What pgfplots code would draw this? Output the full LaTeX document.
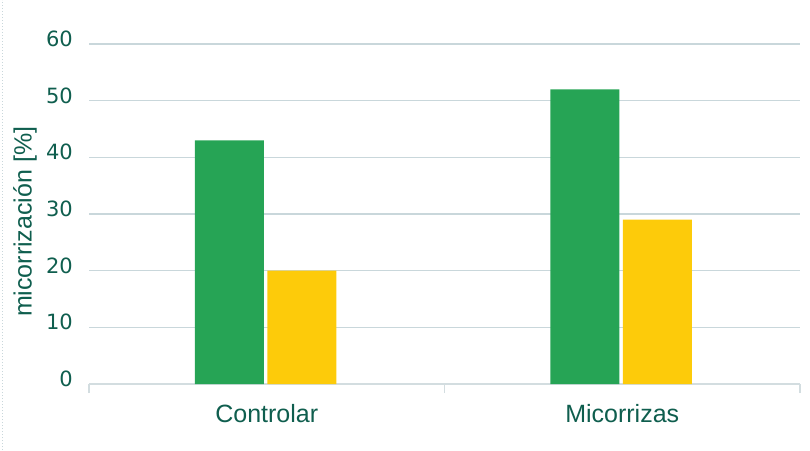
\documentclass[border=0pt]{standalone}
\usepackage{fontspec}
\setmainfont{Liberation Sans}
\newfontfamily\dejavu{DejaVu Sans}
\usepackage{pgfplots}
\pgfplotsset{compat=1.18}
\definecolor{txt}{HTML}{0F5E4E}
\definecolor{grn}{HTML}{26A455}
\definecolor{ylw}{HTML}{FDCB0A}
\definecolor{gridc}{HTML}{C9D7DB}
\definecolor{basec}{HTML}{D3DDE0}
\begin{document}
\begin{tikzpicture}
\path[use as bounding box] (0,0) rectangle (810pt,450pt);
\draw[gridc, line width=1pt, dotted] (2pt,0) -- (2pt,450pt);
\begin{axis}[
  at={(89pt,66pt)}, anchor=south west,
  scale only axis, width=711pt, height=340pt,
  xmin=-0.5, xmax=1.5, ymin=0, ymax=60,
  ybar, bar width=69pt,
  axis line style={draw=none},
  xtick={0,1}, xticklabels={Controlar,Micorrizas},
  ytick={0,10,20,30,40,50,60},
  major tick length=0pt,
  tick pos=left,
  ymajorgrids, grid style={gridc, line width=1.2pt},
  /pgf/number format/assume math mode=true,
  yticklabel style={font=\dejavu\fontsize{21}{21}\selectfont, text=txt, anchor=east, inner sep=0pt, xshift=-16pt, yshift=5pt},
  xticklabel style={font=\fontsize{25}{25}\selectfont, text=txt, anchor=base, inner sep=0pt, yshift=-38pt},
  ylabel={micorrización [\%]},
  ylabel style={font=\fontsize{25}{25}\selectfont, text=txt, at={(axis description cs:-0.09,0.477)}, anchor=center},
  extra x ticks={-0.5,0.5,1.5}, extra x tick labels={},
  extra x tick style={major tick length=9pt, tick align=outside, tick style={basec, line width=1.5pt}, grid=none},
  clip=false,
]
\draw[basec, line width=2pt] (axis cs:-0.5,0) -- (axis cs:1.5,0);
\addplot[fill=grn, draw=none, bar shift=-37.5pt] coordinates {(0,43) (1,52)};
\addplot[fill=ylw, draw=none, bar shift=35pt] coordinates {(0,20) (1,29)};
\end{axis}
\end{tikzpicture}
\end{document}
